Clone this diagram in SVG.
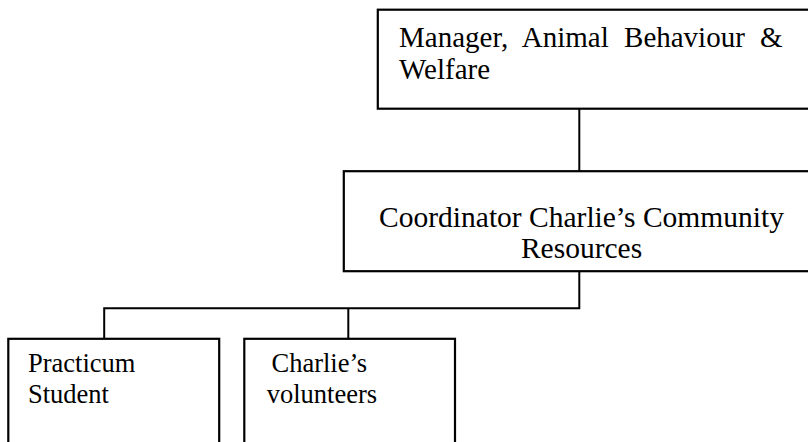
<svg xmlns="http://www.w3.org/2000/svg" width="808" height="442" viewBox="0 0 808 442">
<style>
.box{fill:#fff;stroke:#000;stroke-width:2.2}
.conn{fill:none;stroke:#000;stroke-width:2}
text{font-family:"Liberation Serif","Times New Roman",serif;fill:#000}
.top{font-size:29px}
.mid{font-size:29.5px}
.small{font-size:26.5px}
</style>
<rect width="808" height="442" fill="#fff"/>
<g id="connectors">
<line class="conn" x1="579.3" y1="108.7" x2="579.3" y2="171.2"/>
<polyline class="conn" points="579.3,271.2 579.3,308.3 104.2,308.3 104.2,338.8"/>
<line class="conn" x1="348.3" y1="308.3" x2="348.3" y2="338.8"/>
</g>
<g id="manager">
<rect class="box" x="377.8" y="9.7" width="440" height="99"/>
<text class="top" x="399" y="46.5" word-spacing="8">Manager, Animal Behaviour &amp;</text>
<text class="top" x="399" y="79">Welfare</text>
</g>
<g id="coordinator">
<rect class="box" x="343.8" y="171.2" width="480" height="100"/>
<text class="mid" x="581.5" y="226.5" text-anchor="middle">Coordinator Charlie’s Community</text>
<text class="mid" x="581.5" y="258" text-anchor="middle">Resources</text>
</g>
<g id="student">
<rect class="box" x="8.3" y="338.8" width="210.9" height="120"/>
<text class="small" x="28" y="372">Practicum</text>
<text class="small" x="28" y="403">Student</text>
</g>
<g id="volunteers">
<rect class="box" x="244.3" y="338.8" width="210.7" height="120"/>
<text class="small" x="271.5" y="372">Charlie’s</text>
<text class="small" x="266.7" y="403">volunteers</text>
</g>
</svg>
